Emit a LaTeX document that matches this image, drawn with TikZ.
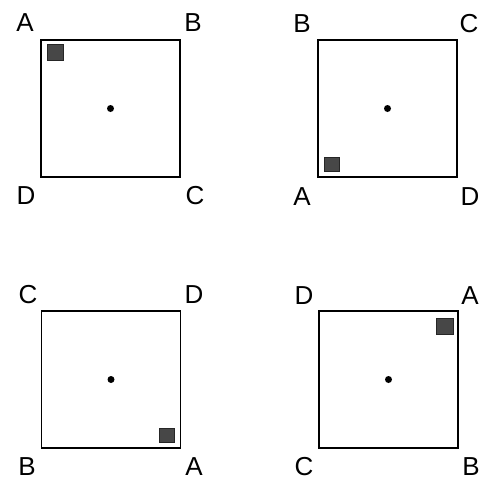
\documentclass[tikz,border=0pt]{standalone}
\usepackage{fontspec}
\setmainfont{Liberation Sans}
\usetikzlibrary{calc}

\tikzset{
  frame/.style={draw, line width=1.8pt, inner sep=0pt, minimum width=139pt, minimum height=137pt},
  lbl/.style={font=\fontsize{26}{26}\selectfont, inner sep=0pt},
  tag/.style={fill=black!72, draw=black!85, line width=0.6pt}
}

\begin{document}
\begin{tikzpicture}[x=1pt, y=-1pt]
  \useasboundingbox (0,0) rectangle (491,480);
  % top left
  \node[frame] (S1) at (110.5,108.5) {}; \fill (S1.center) circle (3.5);
  \node[lbl] (A1) at (25,23) {A}; \node[lbl] (B1) at (193,23) {B};
  \node[lbl] (D1) at (26,196) {D}; \node[lbl] (C1) at (195,196) {C};
  \draw[tag] ($(S1.north west)+(7,5)$) rectangle +(16,16);
  % top right
  \node[frame] (S2) at (387.5,108.5) {}; \fill (S2.center) circle (3.5);
  \node[lbl] (B2) at (302,24) {B}; \node[lbl] (C2) at (469,24) {C};
  \node[lbl] (A2) at (302,197) {A}; \node[lbl] (D2) at (470,197) {D};
  \draw[tag] ($(S2.south west)+(7,-7)$) rectangle +(15,-14);
  % bottom left
  \node[frame] (S3) at (111,379.5) {}; \fill (S3.center) circle (3.5);
  \node[lbl] (C3) at (28,295) {C}; \node[lbl] (D3) at (194,295) {D};
  \node[lbl] (B3) at (27,467) {B}; \node[lbl] (A3) at (194,467) {A};
  \draw[tag] ($(S3.south east)+(-7,-7)$) rectangle +(-15,-14);
  % bottom right
  \node[frame] (S4) at (388.5,379.5) {}; \fill (S4.center) circle (3.5);
  \node[lbl] (D4) at (304,296) {D}; \node[lbl] (A4) at (470,296) {A};
  \node[lbl] (C4) at (304,467) {C}; \node[lbl] (B4) at (471,467) {B};
  \draw[tag] ($(S4.north east)+(-6,8)$) rectangle +(-17,16);
\end{tikzpicture}
\end{document}
